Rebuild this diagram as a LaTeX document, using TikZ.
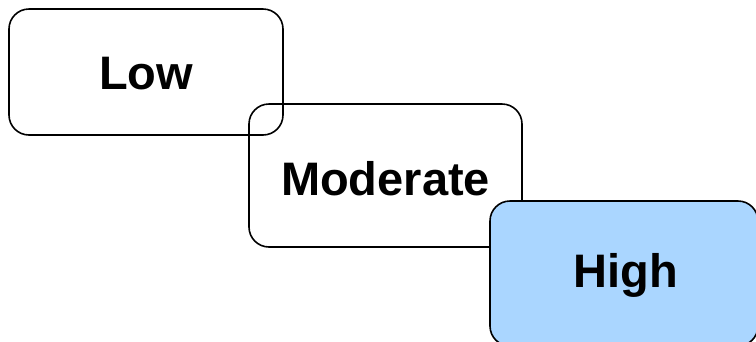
\documentclass[tikz,border=0pt]{standalone}
\usepackage{fontspec}
\setmainfont{Liberation Sans}
\definecolor{highblue}{RGB}{170,214,255}
\begin{document}
\begin{tikzpicture}[x=1pt,y=-1pt,
  level/.style={draw=black,line width=1.6pt,rounded corners=20pt,
    font=\fontsize{47}{56}\selectfont\bfseries},
  levellabel/.style={font=\fontsize{47}{56}\selectfont\bfseries,inner sep=0pt}]
  \useasboundingbox (0,0) rectangle (756,341);
  \begin{scope}
    \clip (0,0) rectangle (756,341);
    % outlined levels (no fill, so overlapping edges stay visible)
    \draw[level] (9,9) rectangle (283,135);
    \node[levellabel] (low) at (146,74) {Low};
    \draw[level] (249,104) rectangle (522,247);
    \node[levellabel] (moderate) at (385.5,179) {Moderate};
    % highlighted level on top
    \draw[level,fill=highblue] (490,201) rectangle (758,346);
    \node[levellabel] (high) at (625.5,275) {High};
  \end{scope}
\end{tikzpicture}
\end{document}
